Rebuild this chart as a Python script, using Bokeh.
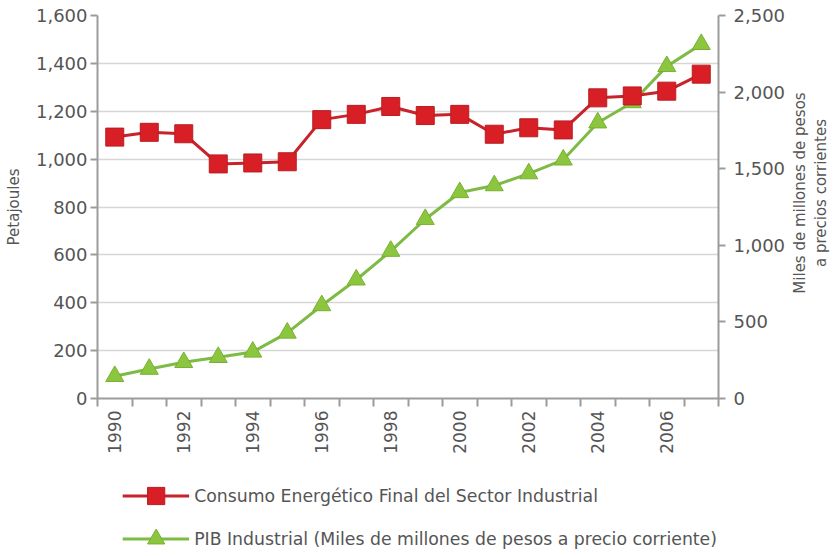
from bokeh.plotting import figure
from bokeh.layouts import column, row
from bokeh.models import (Range1d, LinearAxis, FixedTicker, NumeralTickFormatter,
                          Legend, LegendItem, Label)
from bokeh.embed import file_html
from bokeh.resources import INLINE
import math

years = [1990, 1991, 1992, 1993, 1994, 1995, 1996, 1997, 1998,
         1999, 2000, 2001, 2002, 2003, 2004, 2005, 2006, 2007]
year_ticks = [1990, 1992, 1994, 1996, 1998, 2000, 2002, 2004, 2006]
year_labels = ["1990", "1992", "1994", "1996", "1998", "2000", "2002", "2004", "2006"]

consumo = [1092, 1112, 1106, 980, 984, 989, 1165, 1187, 1220, 1182, 1187,
           1104, 1131, 1122, 1256, 1264, 1284, 1355]
pib = [145, 192, 236, 269, 304, 428, 607, 775, 962, 1170, 1345,
       1390, 1468, 1558, 1800, 1932, 2168, 2312]

left_ticks = [0, 200, 400, 600, 800, 1000, 1200, 1400, 1600]
right_ticks = [0, 500, 1000, 1500, 2000, 2500]

left_title = "Petajoules"
right_title = "Miles de millones de pesos\na precios corrientes"
label_consumo = "Consumo Energético Final del Sector Industrial"
label_pib = "PIB Industrial (Miles de millones de pesos a precio corriente)"

FONT = "DejaVu Sans"
TXT = "#555555"
AX = "#9c9c9c"
RED_LINE = "#c8232b"
RED = "#d91f26"
RED_EDGE = "#b81c22"
GREEN_LINE = "#7dbb45"
GREEN = "#8cc63f"
GREEN_EDGE = "#78b032"

W_MAIN = 788
W_SIDE = 44
H_MAIN = 456
H_LEG = 99

p = figure(width=W_MAIN, height=H_MAIN, output_backend="svg", toolbar_location=None,
           x_range=Range1d(years[0] - 0.5, years[-1] + 0.5),
           y_range=Range1d(left_ticks[0], left_ticks[-1]),
           min_border_left=97, min_border_right=68, min_border_top=15,
           min_border_bottom=58)
p.outline_line_color = None
p.background_fill_color = "white"
p.border_fill_color = "white"

p.extra_y_ranges = {"pib": Range1d(right_ticks[0], right_ticks[-1])}

# x axis
xa = p.xaxis[0]
xa.ticker = FixedTicker(ticks=year_ticks,
                        minor_ticks=[y - 0.5 for y in years] + [years[-1] + 0.5])
xa.major_label_overrides = {t: l for t, l in zip(year_ticks, year_labels)}
xa.major_label_orientation = math.pi / 2
xa.major_tick_line_color = None
xa.major_tick_out = 8
xa.minor_tick_out = 8
xa.minor_tick_in = 0
xa.minor_tick_line_color = AX
xa.minor_tick_line_width = 2
xa.axis_line_color = AX
xa.axis_line_width = 2
xa.major_label_text_font = FONT
xa.major_label_text_font_size = "17px"
xa.major_label_text_color = TXT
xa.major_label_standoff = 4

# left axis
ya = p.yaxis[0]
ya.ticker = FixedTicker(ticks=left_ticks)
ya.formatter = NumeralTickFormatter(format="0,0")
ya.axis_label = left_title
ya.axis_label_text_font = FONT
ya.axis_label_text_font_size = "15px"
ya.axis_label_text_font_style = "normal"
ya.axis_label_text_color = TXT
ya.axis_label_standoff = 10
ya.major_label_text_font = FONT
ya.major_label_text_font_size = "18px"
ya.major_label_text_color = TXT
ya.major_label_standoff = 3
ya.major_tick_out = 7
ya.major_tick_in = 0
ya.major_tick_line_color = AX
ya.major_tick_line_width = 2
ya.minor_tick_line_color = None
ya.axis_line_color = AX
ya.axis_line_width = 2

# right axis
ra = LinearAxis(y_range_name="pib", ticker=FixedTicker(ticks=right_ticks),
                formatter=NumeralTickFormatter(format="0,0"))
ra.major_label_text_font = FONT
ra.major_label_text_font_size = "18px"
ra.major_label_text_color = TXT
ra.major_label_standoff = 8
ra.major_tick_out = 7
ra.major_tick_in = 0
ra.major_tick_line_color = AX
ra.major_tick_line_width = 2
ra.minor_tick_line_color = None
ra.axis_line_color = AX
ra.axis_line_width = 2
p.add_layout(ra, "right")

p.xgrid.grid_line_color = None
p.ygrid.ticker = FixedTicker(ticks=left_ticks)
p.ygrid.grid_line_color = "#d6d6d6"
p.ygrid.grid_line_width = 1.5

p.line(years, pib, y_range_name="pib", line_color=GREEN_LINE, line_width=3)
p.scatter(years, pib, y_range_name="pib", marker="triangle", size=18,
          fill_color=GREEN, line_color=GREEN_EDGE, line_width=1)
p.line(years, consumo, line_color=RED_LINE, line_width=3)
p.scatter(years, consumo, marker="square", size=18,
          fill_color=RED, line_color=RED_EDGE, line_width=1)

# right-hand title (reads bottom to top, as in the original)
side = figure(width=W_SIDE, height=H_MAIN, output_backend="svg", toolbar_location=None,
              x_range=Range1d(0, 1), y_range=Range1d(0, 1),
              x_axis_location=None, y_axis_location=None,
              min_border_left=0, min_border_right=0, min_border_top=15,
              min_border_bottom=86)
side.outline_line_color = None
side.xgrid.visible = False
side.ygrid.visible = False
side.add_layout(Label(x=0.5, y=0.5, text=right_title, angle=math.pi / 2,
                      text_align="center", text_baseline="middle",
                      text_font=FONT, text_font_size="15px", text_color=TXT))

# legend panel below the chart (its renderers use the series, out of its view)
lg = figure(width=W_MAIN, height=H_LEG, output_backend="svg", toolbar_location=None,
            x_range=Range1d(0, 1), y_range=Range1d(0, 1),
            x_axis_location=None, y_axis_location=None,
            min_border_left=97, min_border_right=68, min_border_top=17,
            min_border_bottom=0)
lg.outline_line_color = None
lg.xgrid.visible = False
lg.ygrid.visible = False
lc_l = lg.line(years, consumo, line_color=RED_LINE, line_width=3)
lc_s = lg.scatter(years, consumo, marker="square", fill_color=RED,
                  line_color=RED_EDGE, line_width=1)
lp_l = lg.line(years, pib, line_color=GREEN_LINE, line_width=3)
lp_s = lg.scatter(years, pib, marker="triangle", fill_color=GREEN,
                  line_color=GREEN_EDGE, line_width=1)

legend = Legend(items=[LegendItem(label=label_consumo, renderers=[lc_l, lc_s]),
                       LegendItem(label=label_pib, renderers=[lp_l, lp_s])],
                location="top_right", orientation="vertical",
                glyph_width=67, glyph_height=43, spacing=0, padding=0, margin=1,
                label_standoff=5, label_text_font=FONT, label_text_font_size="17.3px",
                label_text_color=TXT, border_line_color=None,
                background_fill_alpha=0)
lg.add_layout(legend, "center")

layout = row(column(p, lg), side)
open("out.html", "w").write(file_html(layout, INLINE))
